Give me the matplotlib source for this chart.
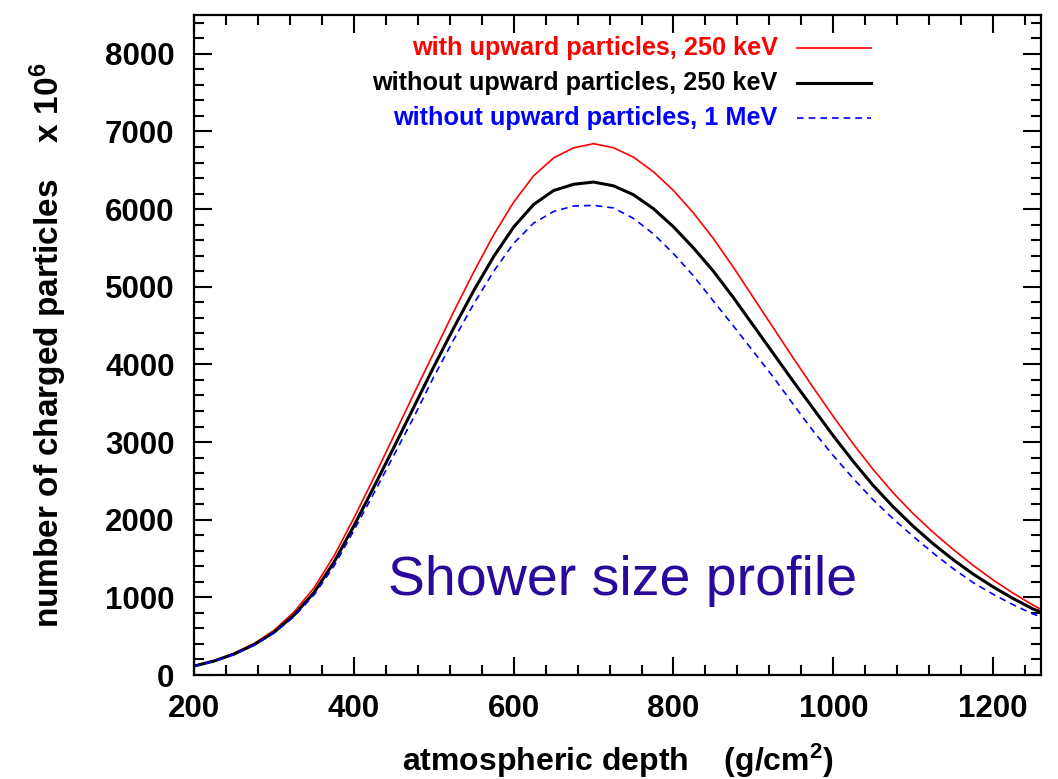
import matplotlib
matplotlib.use("Agg")
import matplotlib.pyplot as plt
from matplotlib.ticker import MultipleLocator

plt.rcParams['font.family'] = ['Liberation Sans', 'DejaVu Sans']
plt.rcParams['mathtext.fontset'] = 'custom'
plt.rcParams['mathtext.rm'] = 'Liberation Sans:bold'
plt.rcParams['mathtext.bf'] = 'Liberation Sans:bold'
plt.rcParams['mathtext.default'] = 'bf'

depth = [200, 225, 250, 275, 300, 325, 350, 375, 400, 425, 450, 475, 500, 525, 550,
         575, 600, 625, 650, 675, 700, 725, 750, 775, 800, 825, 850, 875, 900, 925,
         950, 975, 1000, 1025, 1050, 1075, 1100, 1125, 1150, 1175, 1200, 1225, 1250, 1260]

with_up_250keV = [120, 185, 280, 405, 575, 810, 1120, 1530, 2020, 2540, 3080, 3620, 4150,
                  4680, 5190, 5670, 6090, 6430, 6660, 6790, 6843, 6790, 6670, 6480, 6240,
                  5950, 5620, 5250, 4860, 4470, 4080, 3700, 3330, 2975, 2645, 2345, 2077,
                  1837, 1617, 1412, 1224, 1054, 899, 845]

without_up_250keV = [115, 180, 270, 390, 550, 770, 1060, 1450, 1920, 2420, 2930, 3450, 3970,
                     4470, 4950, 5390, 5770, 6060, 6240, 6320, 6349, 6300, 6185, 6005, 5772,
                     5500, 5200, 4860, 4500, 4140, 3780, 3430, 3080, 2750, 2440, 2165, 1915,
                     1690, 1485, 1300, 1135, 985, 850, 810]

without_up_1MeV = [112, 178, 266, 385, 540, 750, 1030, 1400, 1860, 2340, 2830, 3320, 3840,
                   4320, 4780, 5200, 5560, 5820, 5970, 6040, 6049, 6015, 5880, 5680, 5427,
                   5140, 4815, 4495, 4165, 3835, 3485, 3140, 2825, 2530, 2255, 2010, 1785,
                   1570, 1370, 1190, 1040, 905, 785, 750]

labels = ["with upward particles, 250 keV",
          "without upward particles, 250 keV",
          "without upward particles, 1 MeV"]
colors = ["#ff0000", "#000000", "#0000ff"]

fig = plt.figure(figsize=(10.58, 7.79), dpi=100)
ax = fig.add_axes([0.1834, 0.1335, 0.8006, 0.8472])

ax.plot(depth, with_up_250keV, color=colors[0], lw=1.2)
ax.plot(depth, without_up_250keV, color=colors[1], lw=2.2)
ax.plot(depth, without_up_1MeV, color=colors[2], lw=1.2, dashes=(4, 3))

ax.set_xlim(200, 1260)
ax.set_ylim(0, 8500)
ax.xaxis.set_major_locator(MultipleLocator(200))
ax.xaxis.set_minor_locator(MultipleLocator(40))
ax.yaxis.set_major_locator(MultipleLocator(1000))
ax.yaxis.set_minor_locator(MultipleLocator(200))
ax.tick_params(which='both', direction='in', top=True, right=True, width=1.5)
ax.tick_params(which='major', length=13, labelsize=22.5, pad=14)
ax.tick_params(which='minor', length=7)
for lab in ax.get_xticklabels() + ax.get_yticklabels():
    lab.set_fontweight('bold')
for sp in ax.spines.values():
    sp.set_linewidth(1.6)

ax.set_xlabel("atmospheric depth    (g/cm$^2$)", fontsize=23, fontweight='bold')
ax.set_ylabel("number of charged particles    x 10$^6$", fontsize=24, fontweight='bold')
ax.xaxis.set_label_coords(0.5, -0.101)
ax.yaxis.set_label_coords(-0.148, 0.5)

# legend (gnuplot-style, right aligned text with sample lines)
ys = [8080, 7630, 7180]
tr = ax.get_yaxis_transform()
for lab, col, yv in zip(labels, colors, ys):
    ax.text(0.689, yv, lab, transform=tr, ha='right', va='center',
            color=col, fontsize=18.2, fontweight='bold')
seg_x = [0.712, 0.799]
ax.plot(seg_x, [ys[0]] * 2, color=colors[0], lw=1.2, transform=tr)
ax.plot(seg_x, [ys[1]] * 2, color=colors[1], lw=2.2, transform=tr)
ax.plot(seg_x, [ys[2]] * 2, color=colors[2], lw=1.2, dashes=(4, 3), transform=tr)

ax.text(0.229, 1210, "Shower size profile", transform=tr,
        ha='left', va='center', color='#2a0a9a', fontsize=40)

fig.savefig("out.png", dpi=100)
